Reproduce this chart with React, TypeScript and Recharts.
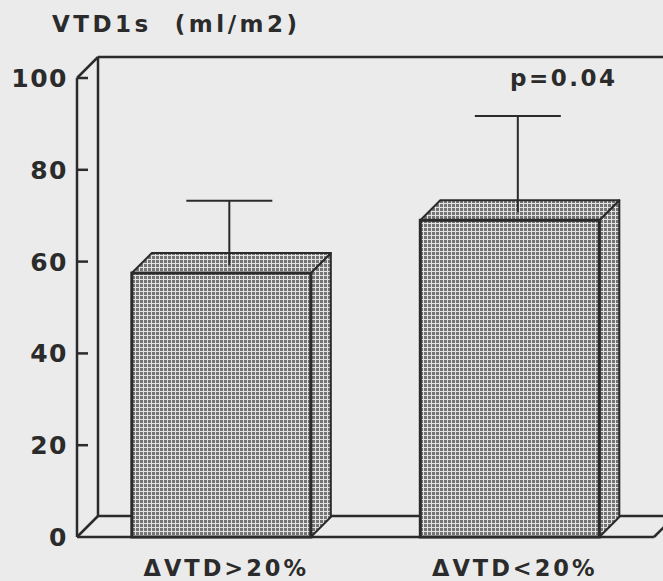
import { BarChart, Bar, XAxis, YAxis, ReferenceArea } from 'recharts';

// group means with their standard deviations
const groups = ['ΔVTD>20%', 'ΔVTD<20%'];
const means = [57.5, 69];
const sds = [14, 21];
const yTicks = [0, 20, 40, 60, 80, 100];

const rows = groups.map((group, i) => ({ group, mean: means[i], sd: sds[i] }));

const INK = '#2b2b2b';
const DEPTH = 21;
const FONT = '"DejaVu Sans", Verdana, sans-serif';

// box-style frame: front axis, back wall edge and floor
const Frame = (props: any) => {
  const { x, y, width: w, height: h } = props;
  const d = DEPTH;
  const lines = [
    [x, y, x, y + h],
    [x, y, x + d, y - d],
    [x + d, y - d, x + w + d, y - d],
    [x + d, y - d, x + d, y + h - d],
    [x + d, y + h - d, x + w + d, y + h - d],
    [x, y + h, x + w, y + h],
    [x, y + h, x + d, y + h - d],
    [x + w, y + h, x + w + d, y + h - d],
  ];
  return (
    <g>
      {lines.map((l, i) => (
        <line key={i} x1={l[0]} y1={l[1]} x2={l[2]} y2={l[3]} stroke={INK} strokeWidth={2.5} />
      ))}
    </g>
  );
};

// bar as a box with a top and right face, plus its SD whisker at mid depth
const Box = (props: any) => {
  const { x, y, width: w, height: h, payload } = props;
  const d = DEPTH - 1;
  const perUnit = h / payload.mean;
  const cx = x + w / 2 + 8;
  const base = y - 8;
  const capY = y - payload.sd * perUnit - 8;
  const top = `${x},${y} ${x + d},${y - d} ${x + w + d},${y - d} ${x + w},${y}`;
  const side = `${x + w},${y} ${x + w + d},${y - d} ${x + w + d},${y + h - d} ${x + w},${y + h}`;
  return (
    <g>
      <polygon points={side} fill="url(#dots)" stroke={INK} strokeWidth={2} strokeLinejoin="round" />
      <polygon points={top} fill="url(#dots)" stroke={INK} strokeWidth={2} strokeLinejoin="round" />
      <rect x={x} y={y} width={w} height={h} fill="url(#dots)" stroke={INK} strokeWidth={3} />
      <line x1={cx} y1={base} x2={cx} y2={capY} stroke={INK} strokeWidth={2} />
      <line x1={cx - 43} y1={capY} x2={cx + 43} y2={capY} stroke={INK} strokeWidth={2} />
    </g>
  );
};

const YTick = (props: any) => {
  const { x, y, payload } = props;
  return (
    <g>
      <text x={x} y={y} dy="0.36em" textAnchor="end" fontFamily={FONT} fontWeight="bold"
        fontSize={25} letterSpacing={1.5} fill={INK}>
        {payload.value}
      </text>
      {payload.value > 0 && <line x1={x + 9} y1={y} x2={x + 20} y2={y} stroke={INK} strokeWidth={2.5} />}
    </g>
  );
};

const XTick = (props: any) => {
  const { x, payload } = props;
  return (
    <text x={x + 5} y={576} textAnchor="middle" fontFamily={FONT} fontWeight="bold"
      fontSize={22.5} letterSpacing={3} fill={INK}>
      {payload.value}
    </text>
  );
};

export default function App() {
  return (
    <div style={{ position: 'absolute', left: 0, top: 0, width: 663, height: 581, background: '#ebebeb', overflow: 'hidden' }}>
      <div style={{ position: 'absolute', left: 52, top: 11, fontFamily: FONT, fontWeight: 'bold', fontSize: 23, letterSpacing: 3.5, color: INK, whiteSpace: 'pre' }}>
        {'VTD1s  (ml/m2)'}
      </div>
      <div style={{ position: 'absolute', left: 510, top: 65, fontFamily: FONT, fontWeight: 'bold', fontSize: 23, letterSpacing: 2.5, color: INK }}>
        p=0.04
      </div>
      <BarChart width={663} height={581} data={rows} margin={{ top: 78, right: 9, bottom: 0, left: 0 }} barCategoryGap="19%">
        <defs>
          <pattern id="dots" width={4} height={4} patternUnits="userSpaceOnUse">
            <rect width={4} height={4} fill="#e2e2e2" />
            <rect width={3} height={3} fill="#747474" />
          </pattern>
        </defs>
        <ReferenceArea y1={0} y2={100} shape={Frame} zIndex={-10} />
        <XAxis dataKey="group" axisLine={false} tickLine={false} height={44} tick={XTick} interval={0} />
        <YAxis domain={[0, 100]} ticks={yTicks} width={77} axisLine={false} tickLine={false}
          tickSize={0} tickMargin={9} tick={YTick} interval={0} />
        <Bar dataKey="mean" shape={Box} isAnimationActive={false} />
      </BarChart>
    </div>
  );
}
